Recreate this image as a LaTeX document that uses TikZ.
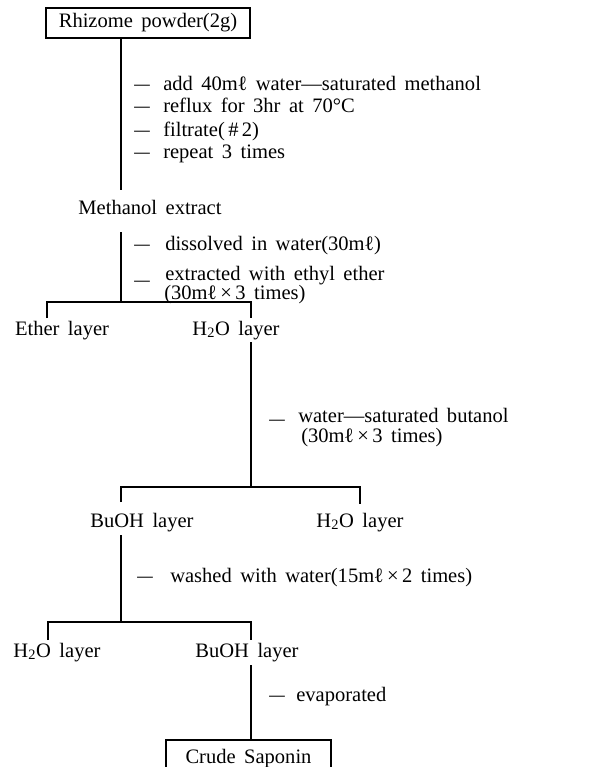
\documentclass[tikz,border=0pt]{standalone}
\usepackage{fontspec}
\setmainfont{Liberation Serif}[WordSpace=1.65]
\newcommand{\mydash}{\scalebox{1.5}[1]{–}}
\newcommand{\myml}{m\kern-0.3pt ℓ}
\begin{document}
\begin{tikzpicture}[x=0.75pt,y=-0.75pt,
  every node/.style={font=\fontsize{15.4}{17}\selectfont, inner sep=0pt, text height=10.5pt, text depth=3pt},
  boxnode/.style={draw, line width=0.9pt},
  txt/.style={anchor=west},
  ln/.style={line width=0.9pt}]
\useasboundingbox (0,0) rectangle (602,767);

% Rhizome box
\node[boxnode, minimum width=153pt, minimum height=22.5pt] (rhiz) at (148,23) {Rhizome powder(2g)};
\coordinate (j1) at (121,190);
\draw[ln] (rhiz.south -| j1) -- (j1);
\node[txt] (d1) at (134,85) {\mydash};
\node[txt] (s1) at (163,85) {add 40\myml{} water—saturated methanol};
\node[txt] (d2) at (134,108) {\mydash};
\node[txt] (s2) at (163,108) {reflux for 3hr at 70°C};
\node[txt] (d3) at (134,131) {\mydash};
\node[txt] (s3) at (163,131) {filtrate(\,\#\,2)};
\node[txt] (d4) at (134,153) {\mydash};
\node[txt] (s4) at (163,153) {repeat 3 times};

\node (meth) at (150,209) {Methanol extract};
\coordinate (j2t) at (121,232);
\coordinate (b1) at (121,302);
\draw[ln] (j2t) -- (b1);
\node[txt] (d5) at (134,245) {\mydash};
\node[txt] (s5) at (165,245) {dissolved in water(30\myml)};
\node[txt] (d6) at (134,281) {\mydash};
\node[txt] (s6) at (165,275) {extracted with ethyl ether};
\node[txt] (s6b) at (164,294) {(30\myml\,×\,3 times)};
\coordinate (b1L) at (47,302);
\coordinate (b1R) at (251,302);
\coordinate (t1L) at (47,318);
\coordinate (t1R) at (251,318);
\draw[ln] (t1L) -- (b1L) -- (b1R) -- (t1R);

\node (ether) at (62,330) {Ether layer};
\node (w1) at (236,330) {H\textsubscript{2}O layer};
\coordinate (j3t) at (251,342);
\coordinate (b2) at (251,487);
\draw[ln] (j3t) -- (b2);
\node[txt] (d7) at (269,420) {\mydash};
\node[txt] (s7) at (298,417) {water—saturated butanol};
\node[txt] (s7b) at (301,437) {(30\myml\,×\,3 times)};
\coordinate (b2L) at (121,487);
\coordinate (b2R) at (360,487);
\coordinate (t2L) at (121,502);
\coordinate (t2R) at (360,504);
\draw[ln] (t2L) -- (b2L) -- (b2R) -- (t2R);

\node (bu1) at (142,522) {BuOH layer};
\node (w2) at (360,522) {H\textsubscript{2}O layer};
\coordinate (j4t) at (121,535);
\coordinate (b3) at (121,622);
\draw[ln] (j4t) -- (b3);
\node[txt] (d8) at (137,577) {\mydash};
\node[txt] (s8) at (170,577) {washed with water(15\myml\,×\,2 times)};
\coordinate (b3L) at (48,622);
\coordinate (b3R) at (251,622);
\coordinate (t3L) at (48,640);
\coordinate (t3R) at (251,640);
\draw[ln] (t3L) -- (b3L) -- (b3R) -- (t3R);

\node (w3) at (57,652) {H\textsubscript{2}O layer};
\node (bu2) at (247,652) {BuOH layer};
\coordinate (j5t) at (251,665);
\node[txt] (d9) at (269,696) {\mydash};
\node[txt] (s9) at (296,696) {evaporated};
\node[boxnode, minimum width=123.75pt, minimum height=27pt] (crude) at (248.5,758) {Crude Saponin};
\draw[ln] (j5t) -- (crude.north -| j5t);
\end{tikzpicture}
\end{document}
